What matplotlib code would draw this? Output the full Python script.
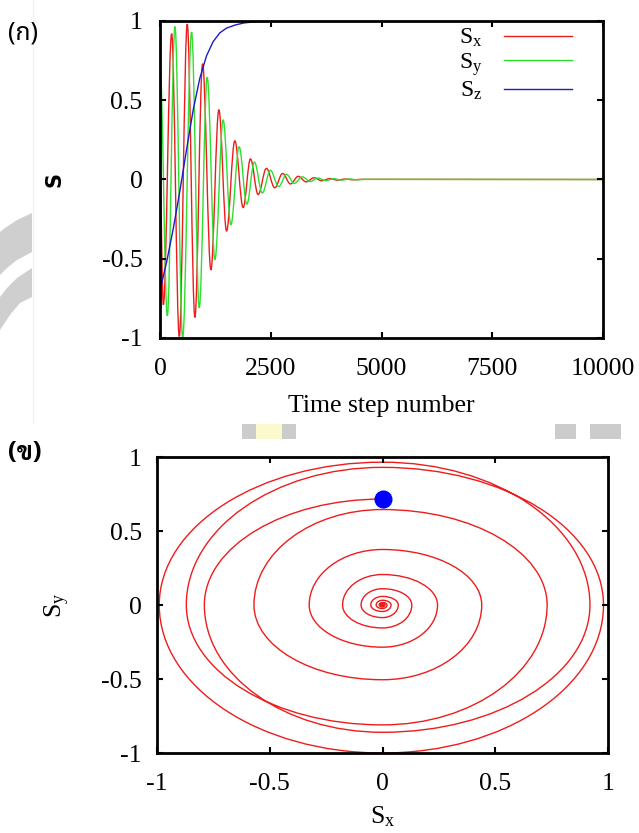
import numpy as np
import matplotlib
matplotlib.use("Agg")
import matplotlib.pyplot as plt
from matplotlib.path import Path
from matplotlib.patches import PathPatch, Polygon, Rectangle
from matplotlib.lines import Line2D
from matplotlib import font_manager
from fontTools.ttLib import TTFont

# =========================
# DATOS
# =========================
# extremos de Sx (paso de tiempo, valor)
sx_steps = [0, 75, 263, 435, 615, 788, 961, 1149, 1329, 1502,
            1689, 1877, 2042, 2215, 2402, 2590, 2768, 2945, 3122, 3300,
            3477, 3655, 3832, 4010, 4187, 4365, 4542, 10000]
sx_peaks = [0.0, -0.79, 0.92, -0.99, 0.98, -0.87, 0.73, -0.57, 0.44, -0.325,
            0.244, -0.177, 0.13, -0.095, 0.07, -0.052, 0.038, -0.028, 0.02, -0.015,
            0.011, -0.008, 0.006, -0.004, 0.003, -0.002, 0.001, 0.0]
# extremos de Sy
sy_steps = [0, 165, 338, 511, 713, 886, 1066, 1239, 1426, 1599,
            1787, 1960, 2130, 2310, 2490, 2680, 2856, 3033, 3211, 3388,
            3566, 3743, 3921, 4098, 4276, 4453, 4630, 10000]
sy_peaks = [0.716, -0.86, 0.965, -1.0, 0.93, -0.81, 0.645, -0.505, 0.375, -0.285,
            0.206, -0.155, 0.11, -0.085, 0.058, -0.044, 0.032, -0.024, 0.017, -0.013,
            0.009, -0.007, 0.005, -0.004, 0.003, -0.002, 0.001, 0.0]
# Sz
sz_steps = [0, 150, 300, 450, 600, 750, 900, 1050, 1200, 1350,
            1500, 1700, 1900, 2100, 2500, 3000, 10000]
sz_values = [-0.70, -0.52, -0.31, -0.07, 0.19, 0.44, 0.64, 0.78, 0.87, 0.925,
             0.955, 0.975, 0.988, 0.994, 0.998, 1.0, 1.0]

xticks_top = [0, 2500, 5000, 7500, 10000]
yticks = [-1, -0.5, 0, 0.5, 1]
ticks_xy = [-1, -0.5, 0, 0.5, 1]

RED = "#ee1c1c"
GREEN = "#2ee02e"
BLUE = "#1a1ad0"

# =========================
# FUENTES (tailandes)
# =========================
thai_fonts = []
for f in font_manager.findSystemFonts():
    try:
        cmap = TTFont(f, fontNumber=0, lazy=True).getBestCmap()
    except Exception:
        continue
    if cmap and 0x0E01 in cmap and 0x0E02 in cmap:
        thai_fonts.append(font_manager.FontProperties(fname=f).get_name())
thai_fonts = sorted(set(thai_fonts))


def pick(prefs):
    for name in prefs:
        if name in thai_fonts:
            return [name, "DejaVu Sans"]
    return [thai_fonts[0], "DejaVu Sans"] if thai_fonts else ["DejaVu Sans"]


thai_plain = pick(["Noto Sans Thai", "Anuphan", "Kanit", "Prompt", "IBM Plex Sans Thai"])
thai_looped = pick(["Sarabun", "Noto Sans Thai Looped", "Noto Serif Thai", "Taviraj", "Trirong"])

plt.rcParams["font.family"] = "Liberation Serif"
plt.rcParams["mathtext.fontset"] = "custom"
plt.rcParams["mathtext.rm"] = "Liberation Serif"
plt.rcParams["mathtext.it"] = "Liberation Serif:italic"


def wave_path(steps, values, c=0.363):
    # curva suave entre extremos (tangente horizontal en cada extremo)
    verts = [(steps[0], values[0])]
    codes = [Path.MOVETO]
    for i in range(1, len(steps)):
        dt = steps[i] - steps[i - 1]
        verts += [(steps[i - 1] + c * dt, values[i - 1]),
                  (steps[i] - c * dt, values[i]),
                  (steps[i], values[i])]
        codes += [Path.CURVE4] * 3
    return Path(verts, codes)


def spiral_path(points, k=0.5523):
    # cuartos de elipse entre los cruces con los ejes
    verts = [points[0]]
    codes = [Path.MOVETO]
    for (x0, y0), (x1, y1) in zip(points[:-1], points[1:]):
        verts += [(x0 + k * x1, y0 + k * y1), (x1 + k * x0, y1 + k * y0), (x1, y1)]
        codes += [Path.CURVE4] * 3
    return Path(verts, codes)


def style_axes(ax, ypad):
    for spine in ax.spines.values():
        spine.set_linewidth(2.0)
        spine.set_color("black")
    ax.tick_params(direction="in", length=4, width=1.5, top=True, right=True,
                   labelsize=18.5)
    ax.tick_params(axis="x", pad=14.5)
    ax.tick_params(axis="y", pad=ypad)


W, H = 639, 833
fig = plt.figure(figsize=(W / 100, H / 100), dpi=100)


def px(x, y):
    return (x / W, 1 - y / H)


# =========================
# GRAFICO (ก)
# =========================
ax1 = fig.add_axes([160 / W, 1 - 338 / H, 443 / W, 317 / H])
ax1.add_patch(PathPatch(wave_path(sx_steps, sx_peaks), fill=False, edgecolor=RED, lw=1.0))
ax1.add_patch(PathPatch(wave_path(sy_steps, sy_peaks), fill=False, edgecolor=GREEN, lw=1.0))
ax1.plot(sz_steps, sz_values, color=BLUE, lw=1.0)
ax1.set_xlim(0, 10000)
ax1.set_ylim(-1, 1)
ax1.set_xticks(xticks_top)
ax1.set_yticks(yticks)
ax1.set_xticklabels([f"{v:g}" for v in xticks_top])
ax1.set_yticklabels([f"{v:g}" for v in yticks])
style_axes(ax1, 12.6)
ax1.set_xlabel("Time step number", fontsize=18.5, labelpad=10.6)
ax1.set_ylabel("S", fontsize=15, fontweight="bold", family="DejaVu Sans", labelpad=26.5)

handles = [Line2D([], [], color=RED, lw=1.0),
           Line2D([], [], color=GREEN, lw=1.0),
           Line2D([], [], color=BLUE, lw=1.0)]
labels = [r"S$_\mathrm{x}$", r"S$_\mathrm{y}$", r"S$_\mathrm{z}$"]
ax1.legend(handles, labels, loc="upper right", bbox_to_anchor=(0.93, 0.981),
           frameon=False, markerfirst=False, fontsize=17, handlelength=2.9,
           handletextpad=0.9, labelspacing=0.08, borderpad=0.0, borderaxespad=0.0)

# =========================
# GRAFICO (ข)
# =========================
ax2 = fig.add_axes([157 / W, 1 - 753 / H, 451 / W, 296 / H])
spiral_points = []
for i in range(len(sy_peaks) - 1):
    spiral_points.append((0.0, sy_peaks[i]))
    if i + 1 < len(sx_peaks) - 1:
        spiral_points.append((sx_peaks[i + 1], 0.0))
ax2.add_patch(PathPatch(spiral_path(spiral_points), fill=False, edgecolor=RED, lw=1.0))
ax2.plot([sx_peaks[0]], [sy_peaks[0]], "o", color="#0000ff", markersize=12)
ax2.set_xlim(-1, 1)
ax2.set_ylim(-1, 1)
ax2.set_xticks(ticks_xy)
ax2.set_yticks(ticks_xy)
ax2.set_xticklabels([f"{v:g}" for v in ticks_xy])
ax2.set_yticklabels([f"{v:g}" for v in ticks_xy])
style_axes(ax2, 11)
ax2.set_xlabel(r"S$_\mathrm{x}$", fontsize=18.5, labelpad=7.0)
ax2.set_ylabel(r"S$_\mathrm{y}$", fontsize=18.5, labelpad=20.6)

# etiquetas de panel
fig.text(*px(8, 33), "(ก)", family=thai_plain, fontsize=18, va="center", ha="left")
fig.text(*px(8, 454), "(ข)", family=thai_looped, fontsize=18, va="center", ha="left",
         fontweight="bold")

# adornos grises de la pagina
band1 = [(32, 213), (17, 220), (5, 228), (0, 232), (0, 275), (7, 268), (17, 260), (32, 252)]
band2 = [(32, 268), (17, 278), (7, 288), (0, 297), (0, 330), (10, 315), (20, 303), (32, 297)]
for band in (band1, band2):
    fig.add_artist(Polygon([px(x, y) for x, y in band], closed=True,
                           facecolor="#cfcfcf", edgecolor="none", transform=fig.transFigure))
for x0, x1, col in [(242, 256, "#cccccc"), (256, 282, "#fdf9cf"), (282, 296, "#cccccc"),
                    (555, 576, "#cccccc"), (590, 621, "#cccccc")]:
    fig.add_artist(Rectangle(px(x0, 439), (x1 - x0) / W, 15 / H, facecolor=col,
                             edgecolor="none", transform=fig.transFigure))
fig.add_artist(Line2D([33 / W, 33 / W], [1, 1 - 423 / H], color="#eeeeee", lw=0.8,
                      transform=fig.transFigure))

fig.savefig("out.png", dpi=100)
